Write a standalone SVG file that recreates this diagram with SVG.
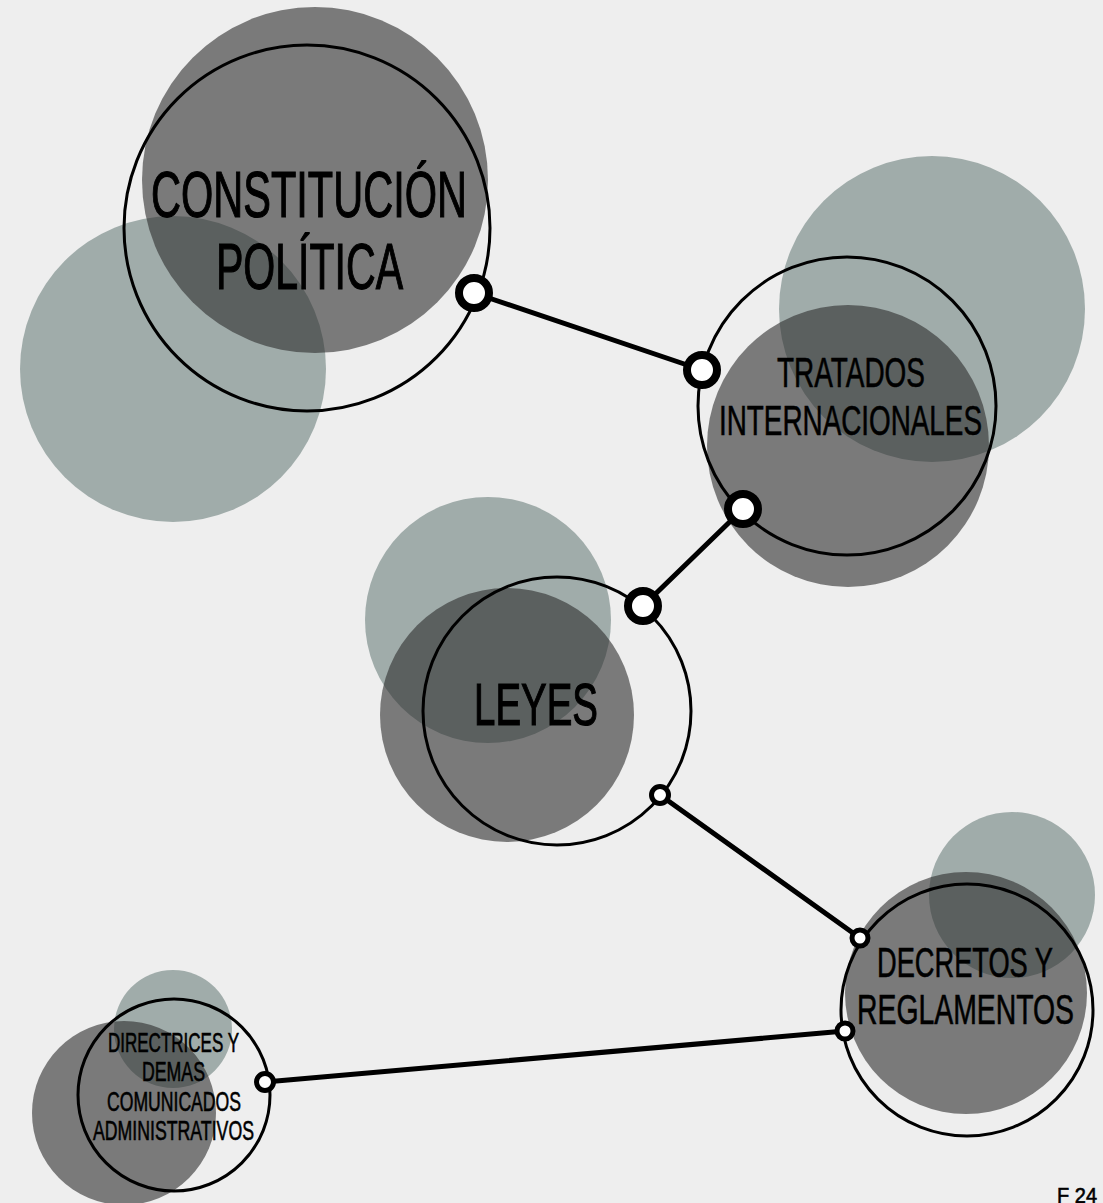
<svg xmlns="http://www.w3.org/2000/svg" width="1103" height="1203" viewBox="0 0 1103 1203">
<style>
.teal{fill:#a0acaa}
.dark{fill:#2d2d2d;fill-opacity:0.6}
.ring{fill:none;stroke:#000;stroke-width:3}
.lbl{font-family:"Liberation Sans",Arial,sans-serif;fill:#000;stroke:#000;stroke-width:1.2}
.sm{stroke-width:0.6}
.link{stroke:#000;stroke-width:5;fill:none;stroke-linecap:round}
.dotL{fill:#fff;stroke:#000;stroke-width:8}
.dotS{fill:#fff;stroke:#000;stroke-width:5}
</style>
<rect width="1103" height="1203" fill="#eeeeee"/>
<g id="constitucion">
<circle class="teal" cx="173" cy="369" r="153"/>
<circle class="dark" cx="315" cy="180" r="173"/>
<circle class="ring" cx="307" cy="228" r="183"/>
<text class="lbl" x="151" y="217" font-size="64" textLength="316" lengthAdjust="spacingAndGlyphs">CONSTITUCIÓN</text>
<text class="lbl" x="216" y="289" font-size="64" textLength="187" lengthAdjust="spacingAndGlyphs">POLÍTICA</text>
</g>
<g id="tratados">
<circle class="teal" cx="932" cy="309" r="153"/>
<circle class="dark" cx="848" cy="446" r="141"/>
<circle class="ring" cx="847" cy="406" r="149"/>
<text class="lbl sm" x="777" y="387" font-size="42" textLength="148" lengthAdjust="spacingAndGlyphs">TRATADOS</text>
<text class="lbl sm" x="719" y="435" font-size="42" textLength="263" lengthAdjust="spacingAndGlyphs">INTERNACIONALES</text>
</g>
<g id="leyes">
<circle class="teal" cx="488" cy="620" r="123"/>
<circle class="dark" cx="507" cy="715" r="127"/>
<circle class="ring" cx="557" cy="711" r="134"/>
<text class="lbl" x="474" y="725" font-size="60" textLength="124" lengthAdjust="spacingAndGlyphs">LEYES</text>
</g>
<g id="decretos">
<circle class="teal" cx="1012" cy="895" r="83"/>
<circle class="dark" cx="966" cy="993" r="121"/>
<circle class="ring" cx="967" cy="1010" r="126"/>
<text class="lbl sm" x="877" y="977" font-size="42" textLength="176" lengthAdjust="spacingAndGlyphs">DECRETOS Y</text>
<text class="lbl sm" x="857" y="1024" font-size="42" textLength="217" lengthAdjust="spacingAndGlyphs">REGLAMENTOS</text>
</g>
<g id="directrices">
<circle class="teal" cx="173" cy="1029" r="59"/>
<circle class="dark" cx="124" cy="1113" r="92"/>
<circle class="ring" cx="174" cy="1095" r="96"/>
<text class="lbl sm" x="108" y="1052" font-size="27" textLength="131" lengthAdjust="spacingAndGlyphs" stroke-width="0.3">DIRECTRICES Y</text>
<text class="lbl sm" x="142" y="1081" font-size="27" textLength="63" lengthAdjust="spacingAndGlyphs" stroke-width="0.3">DEMAS</text>
<text class="lbl sm" x="107" y="1111" font-size="27" textLength="134" lengthAdjust="spacingAndGlyphs" stroke-width="0.3">COMUNICADOS</text>
<text class="lbl sm" x="93" y="1140" font-size="27" textLength="161" lengthAdjust="spacingAndGlyphs" stroke-width="0.3">ADMINISTRATIVOS</text>
</g>
<g id="connectors">
<line class="link" x1="474" y1="293" x2="702" y2="370"/>
<line class="link" x1="743" y1="509" x2="643" y2="606"/>
<line class="link" x1="660" y1="795" x2="860" y2="938"/>
<line class="link" x1="845" y1="1031" x2="265" y2="1082" stroke-width="4.5"/>
<circle class="dotL" cx="474" cy="293" r="15"/>
<circle class="dotL" cx="702" cy="370" r="15"/>
<circle class="dotL" cx="743" cy="509" r="15"/>
<circle class="dotL" cx="643" cy="606" r="15"/>
<circle class="dotS" cx="660" cy="795" r="8.5"/>
<circle class="dotS" cx="860" cy="938" r="8"/>
<circle class="dotS" cx="845" cy="1031" r="8"/>
<circle class="dotS" cx="265" cy="1082" r="8.5"/>
</g>
<text class="lbl sm" x="1057" y="1203" font-size="22" textLength="40" lengthAdjust="spacingAndGlyphs">F 24</text>
</svg>
